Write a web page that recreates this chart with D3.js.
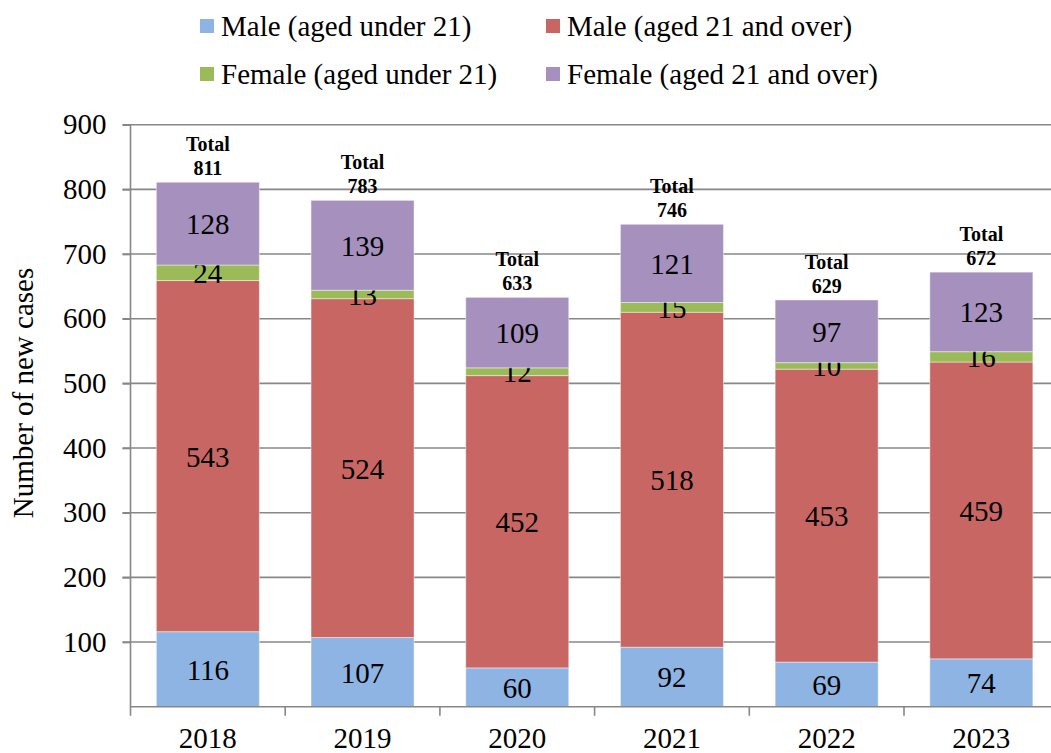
<!DOCTYPE html>
<html>
<head>
<meta charset="utf-8">
<script src="https://cdn.jsdelivr.net/npm/d3@7/dist/d3.min.js"></script>
<style>
  html, body { margin: 0; padding: 0; background: #fff; }
</style>
</head>
<body>
<svg id="chart" width="1051" height="753"></svg>
<script>
// New cases by year, split by sex and age group
const years = ["2018", "2019", "2020", "2021", "2022", "2023"];
const maleUnder21 = [116, 107, 60, 92, 69, 74];
const male21Over = [543, 524, 452, 518, 453, 459];
const femaleUnder21 = [24, 13, 12, 15, 10, 16];
const female21Over = [128, 139, 109, 121, 97, 123];
const yTicks = [100, 200, 300, 400, 500, 600, 700, 800, 900];

const seriesNames = [
  "Male (aged under 21)",
  "Male (aged 21 and over)",
  "Female (aged under 21)",
  "Female (aged 21 and over)"
];
const seriesColors = ["#8EB4E3", "#C86663", "#9BBB59", "#A590BE"];
const seriesValues = [maleUnder21, male21Over, femaleUnder21, female21Over];

const FONT = '"Liberation Serif"';

const svg = d3.select("#chart");
const W = 1051;
const plotLeft = 130.5, plotTop = 124.7, plotBottom = 706.7;
const step = 154.7;

const x = d3.scaleBand()
  .domain(years)
  .range([plotLeft, plotLeft + step * years.length])
  .paddingInner(0.334)
  .paddingOuter(0.167);

const y = d3.scaleLinear().domain([0, 900]).range([plotBottom, plotTop]);

const gridColor = "#878787";

// horizontal gridlines
svg.append("g")
  .selectAll("line")
  .data(yTicks)
  .join("line")
  .attr("x1", plotLeft - 8).attr("x2", W)
  .attr("y1", d => y(d)).attr("y2", d => y(d))
  .attr("stroke", gridColor).attr("stroke-width", 1.6);

// stacked data
const rows = years.map((yr, i) => {
  const r = { year: yr };
  seriesNames.forEach((s, k) => { r[s] = seriesValues[k][i]; });
  return r;
});
const stacked = d3.stack().keys(seriesNames)(rows);

const layers = svg.append("g")
  .selectAll("g")
  .data(stacked)
  .join("g")
  .attr("fill", (d, k) => seriesColors[k]);

layers.selectAll("rect")
  .data(d => d)
  .join("rect")
  .attr("x", d => x(d.data.year))
  .attr("width", x.bandwidth())
  .attr("y", d => y(d[1]))
  .attr("height", d => y(d[0]) - y(d[1]))
  .attr("stroke", "rgba(255,255,255,0.45)")
  .attr("stroke-width", 1);

// value labels centred in each segment
layers.selectAll("text")
  .data(d => d.map(p => ({ p, key: d.key })))
  .join("text")
  .attr("x", d => x(d.p.data.year) + x.bandwidth() / 2)
  .attr("y", d => (y(d.p[0]) + y(d.p[1])) / 2)
  .attr("dy", "0.36em")
  .attr("text-anchor", "middle")
  .attr("fill", "#000")
  .style("font-family", FONT)
  .style("font-size", "29px")
  .text(d => d.p.data[d.key]);

// totals above each bar
const totals = years.map((yr, i) => d3.sum(seriesValues, v => v[i]));
const totalG = svg.append("g")
  .selectAll("text")
  .data(years.map((yr, i) => ({ yr, t: totals[i] })))
  .join("text")
  .attr("text-anchor", "middle")
  .style("font-family", FONT)
  .style("font-size", "20px")
  .style("font-weight", "bold")
  .attr("fill", "#000");
totalG.append("tspan")
  .attr("x", d => x(d.yr) + x.bandwidth() / 2)
  .attr("y", d => y(d.t) - 31)
  .text("Total");
totalG.append("tspan")
  .attr("x", d => x(d.yr) + x.bandwidth() / 2)
  .attr("y", d => y(d.t) - 7)
  .text(d => d.t);

// y axis
const yAxis = svg.append("g")
  .attr("transform", `translate(${plotLeft},0)`)
  .call(d3.axisLeft(y).tickValues(yTicks).tickSize(8).tickPadding(16));
yAxis.select(".domain").remove();
yAxis.selectAll(".tick line").attr("stroke", gridColor).attr("stroke-width", 1.6);
yAxis.selectAll(".tick text")
  .style("font-family", FONT)
  .style("font-size", "29px").attr("fill", "#000");

svg.append("line")
  .attr("x1", plotLeft).attr("x2", plotLeft)
  .attr("y1", plotTop).attr("y2", plotBottom + 9)
  .attr("stroke", gridColor).attr("stroke-width", 1.6);

// x axis
svg.append("line")
  .attr("x1", plotLeft).attr("x2", W)
  .attr("y1", plotBottom).attr("y2", plotBottom)
  .attr("stroke", gridColor).attr("stroke-width", 1.6);

const xAxis = svg.append("g")
  .attr("transform", `translate(0,${plotBottom})`)
  .call(d3.axisBottom(x).tickSize(0).tickPadding(0));
xAxis.select(".domain").remove();
xAxis.selectAll(".tick text")
  .style("font-family", FONT)
  .style("font-size", "29px").attr("fill", "#000")
  .attr("dy", null)
  .attr("y", 41);

// category separator ticks
svg.append("g")
  .selectAll("line")
  .data(d3.range(1, years.length))
  .join("line")
  .attr("x1", i => plotLeft + i * x.step())
  .attr("x2", i => plotLeft + i * x.step())
  .attr("y1", plotBottom).attr("y2", plotBottom + 9)
  .attr("stroke", gridColor).attr("stroke-width", 1.6);

// y axis title
svg.append("text")
  .attr("transform", "translate(33,393) rotate(-90)")
  .attr("text-anchor", "middle")
  .style("font-family", FONT)
  .style("font-size", "29px")
  .attr("fill", "#000")
  .text("Number of new cases");

// legend
const legendPos = [[200, 19], [546, 19], [200, 67], [546, 67]];
const legend = svg.append("g")
  .selectAll("g")
  .data(seriesNames)
  .join("g")
  .attr("transform", (d, k) => `translate(${legendPos[k][0]},${legendPos[k][1]})`);
legend.append("rect")
  .attr("width", 14).attr("height", 14)
  .attr("fill", (d, k) => seriesColors[k]);
legend.append("text")
  .attr("x", 21).attr("y", 7).attr("dy", "0.35em")
  .style("font-family", FONT)
  .style("font-size", "29px").attr("fill", "#000")
  .text(d => d);
</script>
</body>
</html>
